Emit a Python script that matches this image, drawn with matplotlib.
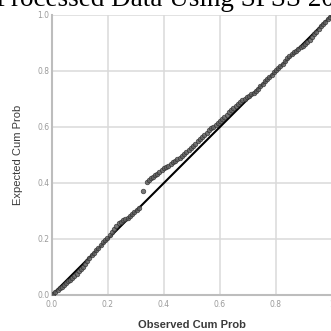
import matplotlib
matplotlib.use("Agg")
import matplotlib.pyplot as plt

title = "Processed Data Using SPSS 20"
x_label = "Observed Cum Prob"
y_label = "Expected Cum Prob"
x_tick_values = [0.0, 0.2, 0.4, 0.6, 0.8, 1.0]
x_tick_labels = ["0.0", "0.2", "0.4", "0.6", "0.8", "1"]
y_tick_values = [0.0, 0.2, 0.4, 0.6, 0.8, 1.0]
y_tick_labels = ["0.0", "0.2", "0.4", "0.6", "0.8", "1.0"]

observed = [
    0.005, 0.012, 0.020, 0.028, 0.035, 0.042, 0.050, 0.058, 0.065, 0.072,
    0.080, 0.088, 0.095, 0.103, 0.110, 0.118, 0.126, 0.134, 0.142, 0.150,
    0.158, 0.166, 0.174, 0.182, 0.190, 0.198, 0.206, 0.214, 0.222, 0.230,
    0.238, 0.246, 0.254, 0.262, 0.270, 0.278, 0.286, 0.294, 0.302, 0.310,
    0.325, 0.338, 0.345, 0.352, 0.360, 0.368, 0.376, 0.384, 0.392, 0.400,
    0.408, 0.416, 0.424, 0.432, 0.440, 0.448, 0.456, 0.464, 0.472, 0.480,
    0.488, 0.496, 0.504, 0.512, 0.520, 0.528, 0.536, 0.544, 0.552, 0.560,
    0.568, 0.576, 0.584, 0.592, 0.600,
    0.608, 0.616, 0.624, 0.632, 0.640, 0.648, 0.656, 0.664, 0.672, 0.680,
    0.688, 0.696, 0.704,
    0.712, 0.720, 0.728, 0.736, 0.744, 0.752, 0.760, 0.768, 0.776, 0.784,
    0.792, 0.800, 0.808, 0.816, 0.824, 0.832, 0.840, 0.848, 0.856, 0.864,
    0.872, 0.880, 0.888, 0.896, 0.904, 0.912, 0.920, 0.928, 0.936, 0.944,
    0.952, 0.960, 0.968, 0.976, 0.984, 0.992, 1.000,
]
expected = [
    0.004, 0.010, 0.017, 0.024, 0.030, 0.036, 0.042, 0.048, 0.054, 0.061,
    0.068, 0.076, 0.084, 0.092, 0.100, 0.109, 0.120, 0.131, 0.142, 0.150,
    0.160, 0.168, 0.178, 0.188, 0.196, 0.205, 0.214, 0.223, 0.234, 0.246,
    0.258, 0.262, 0.266, 0.270, 0.275, 0.281, 0.288, 0.296, 0.303, 0.310,
    0.372, 0.404, 0.410, 0.416, 0.421, 0.428, 0.433, 0.440, 0.446, 0.452,
    0.458, 0.462, 0.468, 0.474, 0.480, 0.486, 0.490, 0.497, 0.503, 0.510,
    0.517, 0.524, 0.532, 0.540, 0.548, 0.556, 0.564, 0.572, 0.580, 0.588,
    0.595, 0.601, 0.607, 0.614, 0.621,
    0.628, 0.636, 0.644, 0.652, 0.660, 0.667, 0.674, 0.681, 0.688, 0.695,
    0.701, 0.707, 0.712,
    0.716, 0.721, 0.728, 0.737, 0.746, 0.755, 0.763, 0.771, 0.779, 0.787,
    0.795, 0.803, 0.810, 0.818, 0.826, 0.836, 0.846, 0.854, 0.860, 0.866,
    0.872, 0.878, 0.884, 0.890, 0.897, 0.904, 0.911, 0.920, 0.930, 0.940,
    0.950, 0.960, 0.968, 0.976, 0.984, 0.992, 0.999,
]
ref_line = [0.0, 1.0]

fig = plt.figure(figsize=(3.31, 3.31), dpi=100)
ax = fig.add_axes([0.157, 0.109, 0.846, 0.846])

ax.grid(True, color="#dadada", linewidth=1.1, zorder=0)
ax.set_axisbelow(True)
ax.plot(ref_line, ref_line, color="black", linewidth=1.5, zorder=3)
ax.scatter(observed, expected, s=11, facecolor="#606060", edgecolor="#2e2e2e",
           linewidths=0.5, zorder=4, alpha=0.85)

ax.set_xlim(0, 1.0)
ax.set_ylim(0, 1.0)
ax.set_xticks(x_tick_values)
ax.set_xticklabels(x_tick_labels)
ax.set_yticks(y_tick_values)
ax.set_yticklabels(y_tick_labels)
ax.tick_params(axis="both", length=0, labelsize=5.5, labelcolor="#9a9a9a")
ax.tick_params(axis="x", pad=4)
ax.tick_params(axis="y", pad=2)
for side in ["top", "right"]:
    ax.spines[side].set_visible(False)
for side in ["left", "bottom"]:
    ax.spines[side].set_color("#bdbdbd")
    ax.spines[side].set_linewidth(1.5)

fig.text(0.58, 0.004, x_label, ha="center", va="bottom",
         fontsize=8, color="#3a3a3a", fontweight="bold", family="Liberation Sans")
fig.text(0.055, 0.532, y_label, ha="center", va="center", rotation=90,
         fontsize=8, color="#3a3a3a", family="Liberation Sans")

fig.text(-0.012, 0.981, title, ha="left", va="baseline", fontsize=19.5,
         family="Liberation Serif", color="black")

fig.savefig("out.png", dpi=100)
